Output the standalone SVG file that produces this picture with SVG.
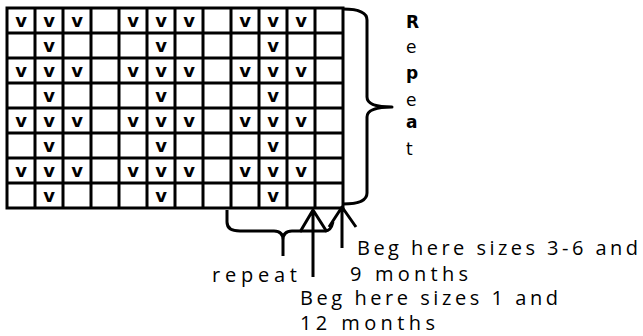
<svg xmlns="http://www.w3.org/2000/svg" width="643" height="336" viewBox="0 0 643 336">
<style>
.g{stroke:#000;stroke-width:3;fill:none}
.v{font-family:"DejaVu Sans",sans-serif;font-weight:bold;font-size:18px;text-anchor:middle;fill:#000}
.c{stroke:#000;stroke-width:3;fill:none;stroke-linejoin:round}
.t{font-family:"Open Sans","Liberation Sans",sans-serif;font-size:20px;fill:#000}
.r{font-family:"DejaVu Sans",sans-serif;font-size:17px;fill:#000}
</style>
<rect width="643" height="336" fill="#fff"/>
<g id="grid">
<path class="g" d="M7,8H343V208H7Z M35,8V208 M63,8V208 M91,8V208 M119,8V208 M147,8V208 M175,8V208 M203,8V208 M231,8V208 M259,8V208 M287,8V208 M315,8V208 M7,33H343 M7,58H343 M7,83H343 M7,108H343 M7,133H343 M7,158H343 M7,183H343"/>
<g class="v">
<text x="21" y="27">v</text><text x="49" y="27">v</text><text x="77" y="27">v</text><text x="133" y="27">v</text><text x="161" y="27">v</text><text x="189" y="27">v</text><text x="245" y="27">v</text><text x="273" y="27">v</text><text x="301" y="27">v</text>
<text x="49" y="52">v</text><text x="161" y="52">v</text><text x="273" y="52">v</text>
<text x="21" y="77">v</text><text x="49" y="77">v</text><text x="77" y="77">v</text><text x="133" y="77">v</text><text x="161" y="77">v</text><text x="189" y="77">v</text><text x="245" y="77">v</text><text x="273" y="77">v</text><text x="301" y="77">v</text>
<text x="49" y="102">v</text><text x="161" y="102">v</text><text x="273" y="102">v</text>
<text x="21" y="127">v</text><text x="49" y="127">v</text><text x="77" y="127">v</text><text x="133" y="127">v</text><text x="161" y="127">v</text><text x="189" y="127">v</text><text x="245" y="127">v</text><text x="273" y="127">v</text><text x="301" y="127">v</text>
<text x="49" y="152">v</text><text x="161" y="152">v</text><text x="273" y="152">v</text>
<text x="21" y="177">v</text><text x="49" y="177">v</text><text x="77" y="177">v</text><text x="133" y="177">v</text><text x="161" y="177">v</text><text x="189" y="177">v</text><text x="245" y="177">v</text><text x="273" y="177">v</text><text x="301" y="177">v</text>
<text x="49" y="202">v</text><text x="161" y="202">v</text><text x="273" y="202">v</text>
</g>
</g>
<g id="connectors">
<path class="c" d="M343,9 Q367,9 367,20 V97 Q367,107 392,107 Q367,107 367,117 V193 Q367,204 343,204"/>
<path class="c" d="M227,210 V222 Q227,231 240,231 H274 Q283,231 283,240 V256 M283,240 Q283,231 292,231 H325 Q331,231 333,222"/>
<path class="c" d="M313,210 V277 M300,232 L313,210 L327,232"/>
<path class="c" d="M342,207 V248 M329,227 L342,207 L356,227"/>
</g>
<g id="repeat-side">
<text class="r" x="406" y="28" font-weight="bold">R</text>
<text class="r" x="406" y="53">e</text>
<text class="r" x="406" y="79" font-weight="bold">p</text>
<text class="r" x="406" y="106">e</text>
<text class="r" x="406" y="128" font-weight="bold">a</text>
<text class="r" x="406" y="155">t</text>
</g>
<g id="labels">
<text class="t" x="212" y="282" textLength="85" lengthAdjust="spacing">repeat</text>
<text class="t" x="357" y="255" textLength="281" lengthAdjust="spacing">Beg here sizes 3-6 and</text>
<text class="t" x="350" y="281" textLength="118" lengthAdjust="spacing">9 months</text>
<text class="t" x="300" y="305" textLength="258" lengthAdjust="spacing">Beg here sizes 1 and</text>
<text class="t" x="300" y="330" textLength="135" lengthAdjust="spacing">12 months</text>
</g>
</svg>
